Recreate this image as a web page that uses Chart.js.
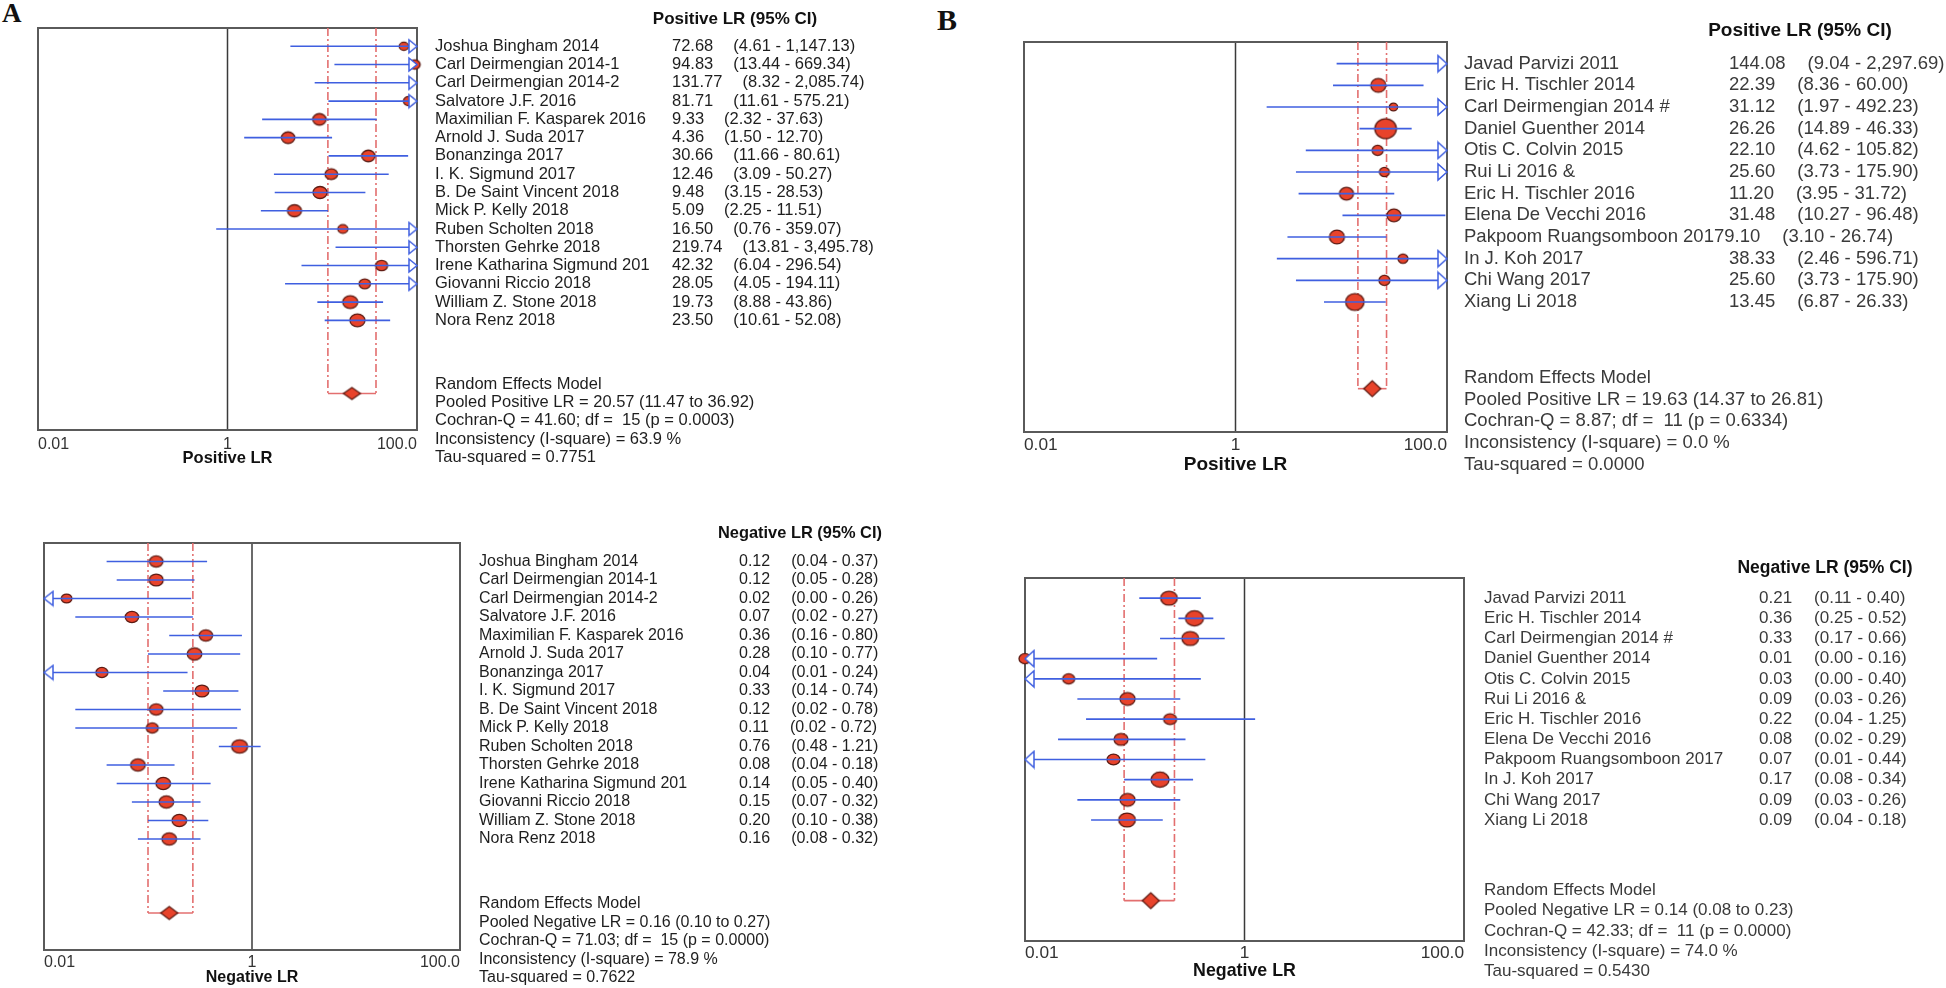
<!DOCTYPE html>
<html><head><meta charset="utf-8">
<script src="https://cdn.jsdelivr.net/npm/chart.js@4.4.0/dist/chart.umd.min.js"></script>
<style>
html,body{margin:0;padding:0;background:#fff;}
body{width:1946px;height:988px;position:relative;overflow:hidden;}
canvas{position:absolute;}
.plabel{position:absolute;font-family:"Liberation Serif","Times New Roman",serif;font-weight:bold;line-height:1;color:#111;}
</style></head><body>
<div class="plabel" style="left:2px;top:0px;font-size:27px">A</div>
<div class="plabel" style="left:937px;top:5px;font-size:30px">B</div>
<canvas id="cAt" width="960" height="490" style="left:0;top:0"></canvas>
<canvas id="cAb" width="960" height="498" style="left:0;top:490px"></canvas>
<canvas id="cBt" width="986" height="490" style="left:960px;top:0"></canvas>
<canvas id="cBb" width="986" height="498" style="left:960px;top:490px"></canvas>
<script>
// ---------------- DATA ----------------
const xTickVals = [0.01, 1, 100];
const xTickLabels = ["0.01", "1", "100.0"];

const studiesA = ["Joshua Bingham 2014","Carl Deirmengian 2014-1","Carl Deirmengian 2014-2","Salvatore J.F. 2016",
  "Maximilian F. Kasparek 2016","Arnold J. Suda 2017","Bonanzinga 2017","I. K. Sigmund 2017","B. De Saint Vincent 2018",
  "Mick P. Kelly 2018","Ruben Scholten 2018","Thorsten Gehrke 2018","Irene Katharina Sigmund 201","Giovanni Riccio 2018",
  "William Z. Stone 2018","Nora Renz 2018"];
const studiesB = ["Javad Parvizi 2011","Eric H. Tischler 2014","Carl Deirmengian 2014 #","Daniel Guenther 2014",
  "Otis C. Colvin 2015","Rui Li 2016 &","Eric H. Tischler 2016","Elena De Vecchi 2016","Pakpoom Ruangsomboon 2017",
  "In J. Koh 2017","Chi Wang 2017","Xiang Li 2018"];

// A - Positive LR
const plrA_est = [72.68, 94.83, 131.77, 81.71, 9.33, 4.36, 30.66, 12.46, 9.48, 5.09, 16.50, 219.74, 42.32, 28.05, 19.73, 23.50];
const plrA_lo  = [4.61, 13.44, 8.32, 11.61, 2.32, 1.50, 11.66, 3.09, 3.15, 2.25, 0.76, 13.81, 6.04, 4.05, 8.88, 10.61];
const plrA_hi  = [1147.13, 669.34, 2085.74, 575.21, 37.63, 12.70, 80.61, 50.27, 28.53, 11.51, 359.07, 3495.78, 296.54, 194.11, 43.86, 52.08];
const plrA_weight = [4.7, 5.3, 5.0, 5.3, 6.7, 6.7, 6.7, 6.3, 7.0, 7.0, 5.0, 5.0, 6.0, 5.7, 7.5, 7.5];
const plrA_valText = ["72.68","94.83","131.77","81.71","9.33","4.36","30.66","12.46","9.48","5.09","16.50","219.74","42.32","28.05","19.73","23.50"];
const plrA_ciText = ["(4.61 - 1,147.13)","(13.44 - 669.34)","(8.32 - 2,085.74)","(11.61 - 575.21)","(2.32 - 37.63)","(1.50 - 12.70)",
  "(11.66 - 80.61)","(3.09 - 50.27)","(3.15 - 28.53)","(2.25 - 11.51)","(0.76 - 359.07)","(13.81 - 3,495.78)","(6.04 - 296.54)",
  "(4.05 - 194.11)","(8.88 - 43.86)","(10.61 - 52.08)"];
const plrA_pooled = [20.57, 11.47, 36.92];
const plrA_stats = ["Random Effects Model","Pooled Positive LR = 20.57 (11.47 to 36.92)","Cochran-Q = 41.60; df =  15 (p = 0.0003)",
  "Inconsistency (I-square) = 63.9 %","Tau-squared = 0.7751"];

// A - Negative LR
const nlrA_est = [0.12, 0.12, 0.0165, 0.07, 0.36, 0.28, 0.036, 0.33, 0.12, 0.11, 0.76, 0.08, 0.14, 0.15, 0.20, 0.16];
const nlrA_lo  = [0.04, 0.05, 0.004, 0.02, 0.16, 0.10, 0.006, 0.14, 0.02, 0.02, 0.48, 0.04, 0.05, 0.07, 0.10, 0.08];
const nlrA_hi  = [0.37, 0.28, 0.26, 0.27, 0.80, 0.77, 0.24, 0.74, 0.78, 0.72, 1.21, 0.18, 0.40, 0.32, 0.38, 0.32];
const nlrA_weight = [6.7, 7.0, 5.3, 6.7, 6.7, 7.3, 6.0, 7.0, 6.7, 6.0, 8.0, 7.3, 7.3, 7.3, 7.3, 7.3];
const nlrA_valText = ["0.12","0.12","0.02","0.07","0.36","0.28","0.04","0.33","0.12","0.11","0.76","0.08","0.14","0.15","0.20","0.16"];
const nlrA_ciText = ["(0.04 - 0.37)","(0.05 - 0.28)","(0.00 - 0.26)","(0.02 - 0.27)","(0.16 - 0.80)","(0.10 - 0.77)","(0.01 - 0.24)",
  "(0.14 - 0.74)","(0.02 - 0.78)","(0.02 - 0.72)","(0.48 - 1.21)","(0.04 - 0.18)","(0.05 - 0.40)","(0.07 - 0.32)","(0.10 - 0.38)","(0.08 - 0.32)"];
const nlrA_pooled = [0.16, 0.10, 0.27];
const nlrA_stats = ["Random Effects Model","Pooled Negative LR = 0.16 (0.10 to 0.27)","Cochran-Q = 71.03; df =  15 (p = 0.0000)",
  "Inconsistency (I-square) = 78.9 %","Tau-squared = 0.7622"];

// B - Positive LR
const plrB_est = [144.08, 22.39, 31.12, 26.26, 22.10, 25.60, 11.20, 31.48, 9.10, 38.33, 25.60, 13.45];
const plrB_lo  = [9.04, 8.36, 1.97, 14.89, 4.62, 3.73, 3.95, 10.27, 3.10, 2.46, 3.73, 6.87];
const plrB_hi  = [2297.69, 60.00, 492.23, 46.33, 105.82, 175.90, 31.72, 96.48, 26.74, 596.71, 175.90, 26.33];
const plrB_weight = [6.0, 7.5, 4.2, 10.8, 5.5, 5.0, 7.0, 7.0, 7.5, 5.0, 5.5, 9.2];
const plrB_valText = ["144.08","22.39","31.12","26.26","22.10","25.60","11.20","31.48","9.10","38.33","25.60","13.45"];
const plrB_ciText = ["(9.04 - 2,297.69)","(8.36 - 60.00)","(1.97 - 492.23)","(14.89 - 46.33)","(4.62 - 105.82)","(3.73 - 175.90)",
  "(3.95 - 31.72)","(10.27 - 96.48)","(3.10 - 26.74)","(2.46 - 596.71)","(3.73 - 175.90)","(6.87 - 26.33)"];
const plrB_pooled = [19.63, 14.37, 26.81];
const plrB_stats = ["Random Effects Model","Pooled Positive LR = 19.63 (14.37 to 26.81)","Cochran-Q = 8.87; df =  11 (p = 0.6334)",
  "Inconsistency (I-square) = 0.0 %","Tau-squared = 0.0000"];

// B - Negative LR
const nlrB_est = [0.205, 0.35, 0.32, 0.01, 0.025, 0.086, 0.21, 0.075, 0.064, 0.17, 0.086, 0.085];
const nlrB_lo  = [0.11, 0.25, 0.17, 0.004, 0.004, 0.03, 0.036, 0.02, 0.007, 0.08, 0.03, 0.04];
const nlrB_hi  = [0.40, 0.52, 0.66, 0.16, 0.40, 0.26, 1.25, 0.29, 0.44, 0.34, 0.26, 0.18];
const nlrB_weight = [8.3, 9.0, 8.3, 6.0, 6.0, 7.5, 6.5, 7.0, 6.5, 9.0, 7.5, 8.3];
const nlrB_valText = ["0.21","0.36","0.33","0.01","0.03","0.09","0.22","0.08","0.07","0.17","0.09","0.09"];
const nlrB_ciText = ["(0.11 - 0.40)","(0.25 - 0.52)","(0.17 - 0.66)","(0.00 - 0.16)","(0.00 - 0.40)","(0.03 - 0.26)",
  "(0.04 - 1.25)","(0.02 - 0.29)","(0.01 - 0.44)","(0.08 - 0.34)","(0.03 - 0.26)","(0.04 - 0.18)"];
const nlrB_pooled = [0.14, 0.08, 0.23];
const nlrB_stats = ["Random Effects Model","Pooled Negative LR = 0.14 (0.08 to 0.23)","Cochran-Q = 42.33; df =  11 (p = 0.0000)",
  "Inconsistency (I-square) = 74.0 %","Tau-squared = 0.5430"];

// ---------------- STYLE ----------------
const FONT = '"Liberation Sans", Arial, sans-serif';
const BLUE = '#3f5fe0';
const RED_FILL = '#e8432b';
const RED_EDGE = '#5b1a12';
const RED_DASH = '#e36f6f';
const BOX = '#5a5a5a';

function ellipseImg(rx, ry) {
  const c = document.createElement('canvas');
  c.width = Math.ceil(2 * rx + 4); c.height = Math.ceil(2 * ry + 4);
  const g = c.getContext('2d');
  g.beginPath(); g.ellipse(c.width / 2, c.height / 2, rx, ry, 0, 0, Math.PI * 2);
  g.fillStyle = RED_FILL; g.fill(); g.lineWidth = 1.3; g.strokeStyle = RED_EDGE; g.stroke();
  return c;
}
function diamondImg(w, h) {
  const c = document.createElement('canvas');
  c.width = w + 4; c.height = h + 4;
  const g = c.getContext('2d'); const cx = c.width / 2, cy = c.height / 2;
  g.beginPath(); g.moveTo(cx - w / 2, cy); g.lineTo(cx, cy - h / 2); g.lineTo(cx + w / 2, cy); g.lineTo(cx, cy + h / 2); g.closePath();
  g.fillStyle = RED_FILL; g.fill(); g.lineWidth = 1.2; g.strokeStyle = RED_EDGE; g.stroke();
  return c;
}
function arrowImg(dir, d, h) {
  const c = document.createElement('canvas');
  c.width = 2 * d + 4; c.height = h + 4;
  const g = c.getContext('2d'); const cx = c.width / 2, cy = c.height / 2;
  g.beginPath();
  g.moveTo(cx, cy); g.lineTo(cx - dir * d, cy - h / 2); g.lineTo(cx - dir * d, cy + h / 2); g.closePath();
  g.fillStyle = '#fff'; g.fill(); g.lineWidth = 1.5; g.strokeStyle = BLUE; g.stroke();
  return c;
}

function makePanel(p) {
  const n = p.names.length;
  const yMin = -1, yMax = n + 5, pooledRow = n + 3;
  const xmin = xTickVals[0], xmax = xTickVals[xTickVals.length - 1];
  const ds = [];
  [p.pooled[1], p.pooled[2]].forEach(v => ds.push({
    data: [{x: v, y: yMin}, {x: v, y: pooledRow}], showLine: true, borderColor: RED_DASH, borderWidth: 1.6,
    borderDash: [8, 3, 2, 3], pointRadius: 0, order: 50
  }));
  ds.push({data: [{x: p.pooled[1], y: pooledRow}, {x: p.pooled[2], y: pooledRow}], showLine: true,
    borderColor: RED_DASH, borderWidth: 1.6, pointRadius: 0, order: 15});
  const dotData = [], dotStyle = [];
  p.est.forEach((v, i) => {
    if (v >= xmin && v <= xmax) { dotData.push({x: v, y: i}); dotStyle.push(ellipseImg(p.weight[i], p.weight[i] * p.aspect)); }
  });
  ds.push({data: dotData, pointStyle: dotStyle, pointRadius: 6, order: 40, clip: false});
  p.lo.forEach((lo, i) => ds.push({data: [{x: lo, y: i}, {x: p.hi[i], y: i}], showLine: true,
    borderColor: BLUE, borderWidth: 1.6, pointRadius: 0, order: 30}));
  const arrData = [], arrStyle = [];
  const rA = arrowImg(1, p.arrow[0], p.arrow[1]), lA = arrowImg(-1, p.arrow[0], p.arrow[1]);
  p.lo.forEach((lo, i) => {
    if (p.hi[i] > xmax) { arrData.push({x: xmax, y: i}); arrStyle.push(rA); }
    if (lo < xmin) { arrData.push({x: xmin, y: i}); arrStyle.push(lA); }
  });
  ds.push({data: arrData, pointStyle: arrStyle, pointRadius: 6, order: 20, clip: false});
  ds.push({data: [{x: p.pooled[0], y: pooledRow}], pointStyle: diamondImg(p.diamond[0], p.diamond[1]),
    pointRadius: 6, order: 10, clip: false});

  const frame = {
    id: 'frame', beforeDatasetsDraw(chart) {
      const {ctx, chartArea: a} = chart; const x = chart.scales.x;
      ctx.save();
      ctx.strokeStyle = '#3a3a3a'; ctx.lineWidth = 1.5;
      const x1 = x.getPixelForValue(xTickVals[1]);
      ctx.beginPath(); ctx.moveTo(x1, a.top); ctx.lineTo(x1, a.bottom); ctx.stroke();
      ctx.strokeStyle = BOX; ctx.lineWidth = 2;
      ctx.strokeRect(a.left, a.top, a.right - a.left, a.bottom - a.top);
      ctx.restore();
    }
  };
  const texts = {
    id: 'texts', afterDraw(chart) {
      const {ctx, chartArea: a} = chart; const y = chart.scales.y; const R = a.right;
      ctx.save(); ctx.textBaseline = 'middle';
      ctx.font = `bold ${p.hdrSize}px ${FONT}`; ctx.fillStyle = '#111'; ctx.textAlign = 'center';
      ctx.fillText(p.header, R + p.hdrDx, y.getPixelForValue(-1.5));
      ctx.textAlign = 'left'; ctx.font = `${p.txtSize}px ${FONT}`; ctx.fillStyle = p.txtColor;
      p.names.forEach((nm, i) => {
        const yy = y.getPixelForValue(i), nx = R + p.nameDx, col = R + p.valDx;
        ctx.fillText(nm, nx, yy);
        const ne = nx + ctx.measureText(nm).width;
        const vx = ne > col - 12 ? ne : col;
        ctx.fillText(p.valText[i], vx, yy);
        ctx.fillText(p.ciText[i], vx + ctx.measureText(p.valText[i]).width + p.ciGap, yy);
      });
      p.stats.forEach((s, k) => ctx.fillText(s, R + p.nameDx, y.getPixelForValue(n + 2.5 + k)));
      ctx.restore();
    }
  };

  new Chart(document.getElementById(p.canvas), {
    type: 'scatter',
    data: {datasets: ds},
    options: {
      responsive: false, animation: false, events: [], devicePixelRatio: 1,
      layout: {padding: p.pad},
      plugins: {legend: {display: false}, tooltip: {enabled: false}},
      scales: {
        x: {
          type: 'logarithmic', min: xmin, max: xmax,
          afterBuildTicks: s => { s.ticks = xTickVals.map(v => ({value: v})); },
          afterFit: s => { s.height = p.axisH; },
          grid: {display: false}, border: {display: false},
          ticks: {align: 'inner', padding: p.tickPad, color: '#333', maxRotation: 0, autoSkip: false,
            font: {family: FONT, size: p.tickSize},
            callback: (v, i) => xTickLabels[i]},
          title: {display: true, text: p.axisTitle, color: '#111', padding: {top: 0, bottom: 0},
            font: {family: FONT, size: p.titleSize, weight: 'bold', lineHeight: 1.2}}
        },
        y: {type: 'linear', reverse: true, min: yMin, max: yMax, display: false}
      }
    },
    plugins: [frame, texts]
  });
}

makePanel({canvas: 'cAt', names: studiesA, est: plrA_est, lo: plrA_lo, hi: plrA_hi, weight: plrA_weight,
  valText: plrA_valText, ciText: plrA_ciText, pooled: plrA_pooled, stats: plrA_stats,
  header: 'Positive LR (95% CI)', axisTitle: 'Positive LR', aspect: 0.86,
  pad: {left: 38, top: 28, right: 543, bottom: 22}, axisH: 38, tickPad: -3, tickSize: 16, titleSize: 16.5,
  hdrSize: 17, hdrDx: 318, txtSize: 16.5, txtColor: '#1e1e1e', nameDx: 18, valDx: 255, ciGap: 20,
  arrow: [8, 13], diamond: [17, 12]});

makePanel({canvas: 'cAb', names: studiesA, est: nlrA_est, lo: nlrA_lo, hi: nlrA_hi, weight: nlrA_weight,
  valText: nlrA_valText, ciText: nlrA_ciText, pooled: nlrA_pooled, stats: nlrA_stats,
  header: 'Negative LR (95% CI)', axisTitle: 'Negative LR', aspect: 0.84,
  pad: {left: 44, top: 53, right: 500, bottom: 1}, axisH: 37, tickPad: -5, tickSize: 16, titleSize: 16,
  hdrSize: 16.4, hdrDx: 340, txtSize: 16, txtColor: '#1e1e1e', nameDx: 19, valDx: 279, ciGap: 21,
  arrow: [9, 14], diamond: [17, 13]});

makePanel({canvas: 'cBt', names: studiesB, est: plrB_est, lo: plrB_lo, hi: plrB_hi, weight: plrB_weight,
  valText: plrB_valText, ciText: plrB_ciText, pooled: plrB_pooled, stats: plrB_stats,
  header: 'Positive LR (95% CI)', axisTitle: 'Positive LR', aspect: 0.92,
  pad: {left: 64, top: 42, right: 499, bottom: 14}, axisH: 44, tickPad: -5, tickSize: 17.3, titleSize: 19,
  hdrSize: 19, hdrDx: 353, txtSize: 18.5, txtColor: '#3a3a3a', nameDx: 17, valDx: 282, ciGap: 22,
  arrow: [9, 16], diamond: [17, 16]});

makePanel({canvas: 'cBb', names: studiesB, est: nlrB_est, lo: nlrB_lo, hi: nlrB_hi, weight: nlrB_weight,
  valText: nlrB_valText, ciText: nlrB_ciText, pooled: nlrB_pooled, stats: nlrB_stats,
  header: 'Negative LR (95% CI)', axisTitle: 'Negative LR', aspect: 0.84,
  pad: {left: 65, top: 88, right: 482, bottom: 6}, axisH: 41, tickPad: -6, tickSize: 17.3, titleSize: 17.8,
  hdrSize: 17.5, hdrDx: 361, txtSize: 17, txtColor: '#3a3a3a', nameDx: 20, valDx: 295, ciGap: 22,
  arrow: [9, 16], diamond: [17, 16]});
</script>
</body></html>
